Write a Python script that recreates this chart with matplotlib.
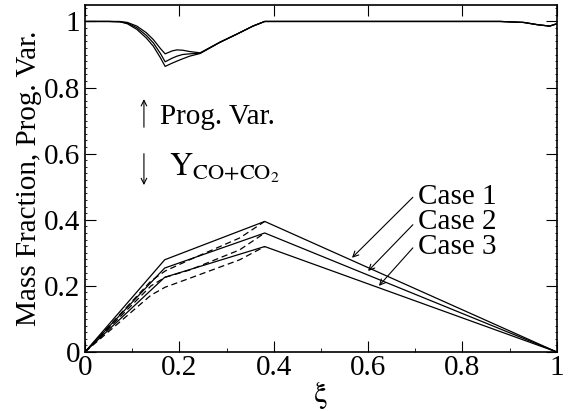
import matplotlib
matplotlib.use("Agg")
import matplotlib.pyplot as plt
from matplotlib.ticker import MultipleLocator, FormatStrFormatter

plt.rcParams["font.family"] = ["Liberation Serif", "DejaVu Serif"]
plt.rcParams["mathtext.fontset"] = "stix"

# progress variable curves (upper group)
xi_pv = [0, 0.05, 0.074, 0.09, 0.11, 0.13, 0.145, 0.16, 0.17, 0.185, 0.195, 0.207, 0.222,
         0.244, 0.286, 0.321, 0.356, 0.381, 0.5, 0.7, 0.88, 0.93, 0.96, 0.985, 1.0]
pv_1 = [1, 1, 0.999, 0.993, 0.976, 0.95, 0.925, 0.89, 0.864, 0.874, 0.88, 0.887, 0.895,
        0.903, 0.937, 0.961, 0.986, 1.0, 1, 1, 1, 0.997, 0.99, 0.986, 0.993]
pv_2 = [1, 1, 0.999, 0.995, 0.981, 0.958, 0.935, 0.903, 0.878, 0.889, 0.895, 0.9, 0.902,
        0.904, 0.937, 0.961, 0.986, 1.0, 1, 1, 1, 0.997, 0.99, 0.986, 0.993]
pv_3 = [1, 1, 1, 0.997, 0.986, 0.966, 0.945, 0.918, 0.902, 0.911, 0.914, 0.913, 0.909,
        0.905, 0.937, 0.961, 0.986, 1.0, 1, 1, 1, 0.997, 0.99, 0.986, 0.993]

# Y_CO+CO2, solid
xi_y = [0, 0.169, 0.381, 1.0]
y_case1 = [0, 0.279, 0.395, 0]
y_case2 = [0, 0.254, 0.36, 0]
y_case3 = [0, 0.226, 0.319, 0]

# Y_CO+CO2, dashed
xi_d = [0, 0.14, 0.17, 0.222, 0.328, 0.381]
d_case1 = [0, 0.215, 0.245, 0.279, 0.345, 0.395]
d_case2 = [0, 0.2, 0.226, 0.248, 0.309, 0.36]
d_case3 = [0, 0.172, 0.196, 0.223, 0.279, 0.319]

fig = plt.figure(figsize=(5.74, 4.11), dpi=100)
ax = fig.add_axes([0.148, 0.1436, 0.822, 0.8444])

for s in [pv_1, pv_2, pv_3]:
    ax.plot(xi_pv, s, color="black", lw=0.9)
for s in [y_case1, y_case2, y_case3]:
    ax.plot(xi_y, s, color="black", lw=0.9)
for s in [d_case1, d_case2, d_case3]:
    ax.plot(xi_d, s, color="black", lw=0.9, ls=(0, (5, 3)))

ax.set_xlim(0, 1)
ax.set_ylim(0, 1.05)
ax.xaxis.set_major_locator(MultipleLocator(0.2))
ax.xaxis.set_minor_locator(MultipleLocator(0.1))
ax.yaxis.set_major_locator(MultipleLocator(0.2))
ax.yaxis.set_minor_locator(MultipleLocator(0.02))
ax.xaxis.set_major_formatter(FormatStrFormatter("%g"))
ax.yaxis.set_major_formatter(FormatStrFormatter("%g"))
ax.tick_params(which="major", direction="in", length=8, width=0.8,
               labelsize=21, top=True, right=True)
ax.tick_params(which="minor", direction="in", length=3, width=0.6,
               top=False, right=True)
ax.tick_params(axis="y", which="minor", length=1.5)
ax.tick_params(axis="x", which="major", pad=2)
for sp in ax.spines.values():
    sp.set_linewidth(1.2)

ax.set_xlabel("ξ", fontsize=22, labelpad=0, family=["STIXGeneral", "DejaVu Serif"])
ax.set_ylabel("Mass Fraction, Prog. Var.", fontsize=21, labelpad=1)

arr = dict(arrowstyle="->", color="black", lw=0.8, shrinkA=0, shrinkB=0)
ax.annotate("", xy=(0.125, 0.765), xytext=(0.125, 0.68), arrowprops=arr)
ax.annotate("", xy=(0.125, 0.505), xytext=(0.125, 0.6), arrowprops=arr)
ax.text(0.158, 0.712, "Prog. Var.", fontsize=21, va="center", ha="left")
ax.text(0.178, 0.555, r"$\mathrm{Y}_{\mathrm{CO{+}CO}_2}$", fontsize=23,
        va="center", ha="left")

ax.text(0.705, 0.47, "Case 1", fontsize=21, va="center", ha="left")
ax.text(0.705, 0.392, "Case 2", fontsize=21, va="center", ha="left")
ax.text(0.705, 0.318, "Case 3", fontsize=21, va="center", ha="left")
ax.annotate("", xy=(0.566, 0.285), xytext=(0.695, 0.468), arrowprops=arr)
ax.annotate("", xy=(0.6, 0.245), xytext=(0.695, 0.385), arrowprops=arr)
ax.annotate("", xy=(0.623, 0.2), xytext=(0.695, 0.315), arrowprops=arr)

fig.savefig("out.png", dpi=100)
